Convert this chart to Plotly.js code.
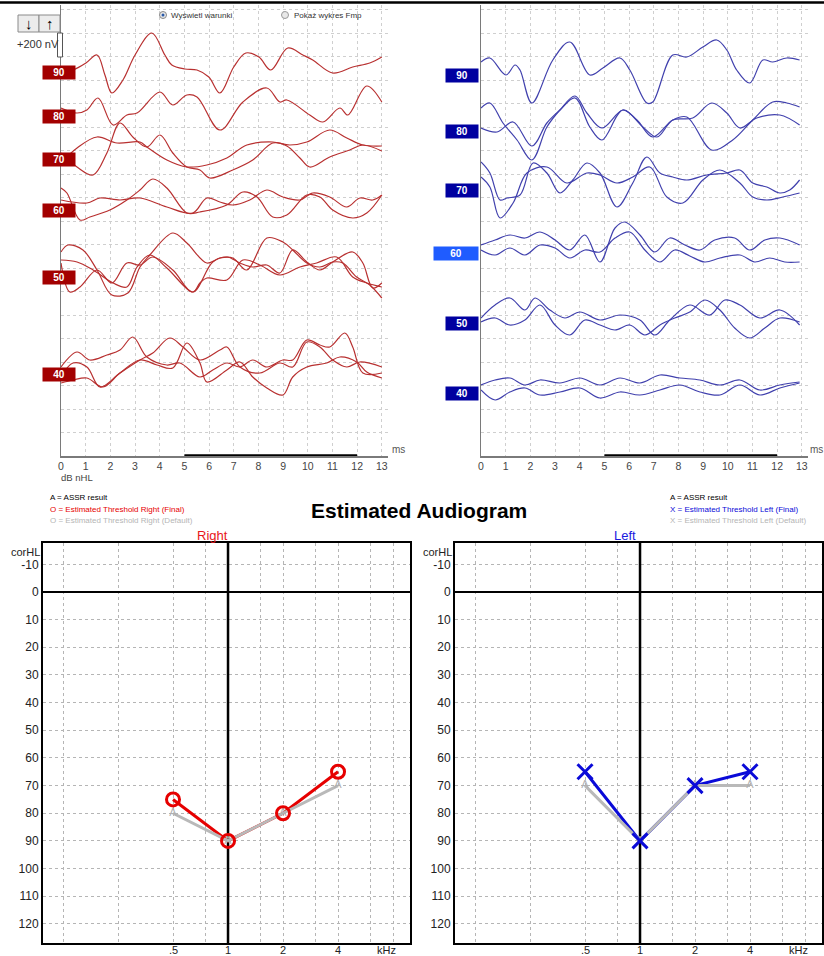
<!DOCTYPE html>
<html><head><meta charset="utf-8">
<script src="https://cdn.plot.ly/plotly-3.0.1.min.js"></script>
<style>body{margin:0;background:#fff}#chart{width:824px;height:956px}</style>
</head><body><div id="chart"></div>
<script>
// ---------- Waveform data (time in ms, amplitude relative to row baseline, display units) ----------
const levels = [90, 80, 70, 60, 50, 40];
const leftRowOffset  = [383, 339, 296, 245, 178, 81];
const rightRowOffset = [380, 324, 265, 202, 132, 62];

const L90_t=[0,0.49,1.01,1.46,1.78,2.06,2.51,3.0,3.68,4.21,4.49,5.02,5.51,5.99,6.44,7.0,7.49,8.02,8.5,9.19,9.8,10.2,11.01,11.82,12.51,13];
const L90_v=[0,3,10,18,-2,-20,-7,18,40,18,8,4,3,-4,-20,6,20,16,3,25,18,13,0,6,10,16];
const L80_t=[0,0.65,1.05,1.5,2.11,2.67,3.08,4.01,4.53,5.1,5.51,6.44,7.37,8.34,8.87,9.15,10.08,10.61,11.3,11.62,12.39,13];
const L80_v=[9,4,7,19,-8,2,4,25,12,22,20,-13,15,29,15,17,2,-5,9,2,31,15];
const L70a_t=[0,0.65,1.3,1.86,2.39,2.91,3.48,4.01,4.53,5.1,5.63,6.03,6.96,7.77,8.58,9.15,9.68,10.08,10.89,11.7,12.23,13];
const L70a_v=[7,-7,-15,7,37,23,13,25,7,-7,-10,-18,-10,0,17,14,2,-7,3,10,15,9];
const L70b_t=[0,0.65,1.46,2.27,3.2,3.48,4.29,5.1,5.91,6.72,7.53,8.58,9.27,9.96,10.89,11.58,12.23,13];
const L70b_v=[-3,12,23,17,18,13,0,-7,-5,2,15,18,15,18,30,22,15,14];
const L60a_t=[0,0.24,0.77,1.17,1.98,2.67,3.2,3.72,4.29,5.1,5.63,6.72,7.37,7.94,8.58,9.15,9.96,10.49,11.01,11.82,12.39,13];
const L60a_v=[23,18,-9,-6,1,11,21,32,23,-2,-1,6,19,14,-6,-4,16,14,1,-7,-2,16];
const L60b_t=[0,1.05,1.58,2.39,3.2,4.29,5.34,5.91,6.44,6.96,7.65,8.34,8.99,9.68,10.2,10.89,11.58,12.11,12.63,13];
const L60b_v=[11,8,13,11,13,4,-2,13,9,6,11,21,14,11,18,14,4,13,11,16];
const L50a_t=[0,0.28,0.89,1.46,2.06,2.71,3.2,3.6,4.53,5.1,5.91,6.44,6.96,7.53,8.34,8.99,9.39,9.96,10.49,11.01,11.42,11.98,12.51,13];
const L50a_v=[26,33,28,8,-17,-15,11,23,45,35,15,20,20,8,40,36,28,15,11,16,15,1,-7,-20];
const L50b_t=[0,0.65,1.3,2.11,2.67,3.08,3.6,4.29,5.34,5.63,5.91,6.72,7.37,8.06,8.87,9.68,10.36,11.17,11.82,12.39,13];
const L50b_v=[18,16,8,-5,-9,11,23,10,-14,-5,0,-2,18,13,3,11,15,21,1,-5,-9];
const L50c_t=[0,0.36,0.77,1.46,2.06,2.67,3.2,3.72,4.53,5.34,6.15,6.72,7.25,7.77,8.34,8.87,9.39,9.96,10.49,11.01,11.82,12.23,12.63,13];
const L50c_v=[15,-14,-9,8,-5,15,13,21,8,-14,16,21,15,11,13,5,28,16,8,16,26,15,-10,-5];
const L40a_t=[0,0.65,1.17,1.86,2.39,2.91,3.48,4.29,4.82,5.63,6.15,6.72,7.25,7.77,8.34,8.99,9.39,9.96,10.49,10.89,11.5,11.82,12.23,13];
const L40a_v=[8,23,15,20,25,38,18,10,12,-2,5,12,8,15,8,15,15,35,30,28,42,28,2,2];
const L40b_t=[0,0.49,1.05,1.58,2.39,3.2,3.72,4.41,4.94,5.63,6.44,6.72,7.25,8.06,8.87,9.39,9.96,10.49,11.01,11.58,12.11,13];
const L40b_v=[-2,12,8,-12,2,15,22,37,28,15,25,28,8,2,12,8,33,28,15,8,13,8];
const L40c_t=[0,0.49,1.05,1.7,2.39,3.2,3.89,4.53,5.1,5.63,5.91,6.72,7.25,7.77,8.34,8.99,9.39,9.96,10.77,11.3,11.98,12.39,13];
const L40c_v=[-8,-5,-3,-12,2,15,10,7,32,12,-7,5,13,-2,-13,-20,-2,8,12,18,13,3,-3];

const R90_t=[0,0.36,1.01,1.38,1.58,2.06,2.91,3.6,4.41,4.94,5.63,6.03,6.72,6.96,7.77,8.34,8.99,9.55,9.96,10.36,10.89,11.42,11.82,12.39,12.91];
const R90_v=[14,18,1,11,6,-27,16,34,1,8,18,6,-27,-26,21,19,29,36,26,6,-7,16,14,18,16];
const R80a_t=[0,0.36,0.89,1.46,2.06,2.67,3.2,3.81,4.29,4.9,5.75,6.32,6.96,7.77,8.34,9.35,10.2,11.01,11.82,12.39,12.91];
const R80a_v=[24,29,9,-8,-28,5,22,36,19,4,22,12,-5,12,15,-18,-8,12,30,29,25];
const R80b_t=[0,0.65,1.3,2.06,2.67,3.2,3.81,4.41,4.9,5.75,6.56,7.13,7.77,8.58,9.35,9.96,10.49,11.17,12.11,12.91];
const R80b_v=[4,0,10,-14,9,22,34,5,-8,22,5,-5,12,14,29,19,4,14,17,7];
const R70a_t=[0,0.36,0.77,1.05,1.58,2.11,2.67,3.2,3.72,4.29,4.82,5.51,6.15,6.72,7.25,7.77,8.34,9.15,9.96,10.49,11.01,11.58,12.11,12.51,12.91];
const R70a_v=[29,18,-9,-7,-4,28,18,-2,11,28,18,-16,8,34,18,14,11,16,18,21,8,4,-2,1,11];
const R70b_t=[0,0.36,0.77,1.3,1.86,2.67,3.48,4.29,4.82,5.51,6.15,6.84,7.53,8.18,8.99,9.68,10.49,11.01,11.58,12.23,12.91];
const R70b_v=[14,4,-27,-12,18,24,8,18,16,8,14,24,-6,-12,11,21,8,-6,-9,-6,-2];
const R60a_t=[0,0.57,1.17,1.78,2.39,3.0,3.6,4.21,4.82,5.43,5.83,6.44,7.04,7.65,8.26,8.87,9.47,10.28,10.89,11.5,12.11,12.91];
const R60a_v=[9,14,19,16,22,14,4,19,-8,26,32,19,2,16,9,4,14,16,4,14,16,9];
const R60b_t=[0,0.57,1.17,1.78,2.39,3.0,3.6,4.21,4.82,5.43,6.03,6.64,7.25,7.85,8.46,9.07,9.68,10.49,11.09,11.7,12.31,12.91];
const R60b_v=[4,-1,6,-1,9,6,-4,4,2,16,22,4,-8,4,-2,-8,-4,-1,-8,-4,-8,-8];
const R50a_t=[0,0.57,1.17,1.78,2.19,2.79,3.4,4.01,4.82,5.63,6.44,7.04,7.65,8.46,9.27,9.88,10.49,11.3,12.11,12.91];
const R50a_v=[6,19,26,14,26,14,6,12,4,9,4,-11,4,19,9,24,19,6,14,-1];
const R50b_t=[0,0.57,1.17,1.78,2.39,3.0,3.6,4.21,4.82,5.43,6.03,6.64,7.25,7.85,8.46,9.07,9.68,10.28,10.89,11.5,12.11,12.91];
const R50b_v=[2,6,-1,4,19,-1,-11,4,-1,-6,-1,-11,-1,6,12,24,14,-4,-14,-4,6,2];
const R40_t=[0,0.57,1.17,1.78,2.39,3.2,4.01,4.82,5.63,6.44,7.25,8.06,8.87,9.68,10.49,11.3,12.11,12.91];
const R40a_v=[9,14,16,9,14,11,16,9,16,11,19,16,14,9,14,4,9,12];
const R40b_v=[4,-6,2,6,-1,2,6,-4,2,-1,4,9,2,-1,9,-1,6,11];

const msTicks=[0,1,2,3,4,5,6,7,8,9,10,11,12,13];

// ---------- Audiogram data ----------
const freqHz=[500,1000,2000,4000];
const rightFinal=[75,90,80,65];
const rightASSR=[80,90,80,70];
const leftFinal=[65,90,70,65];
const leftASSR=[70,90,70,70];
const gridFreqs=[125,250,500,750,1000,1500,2000,3000,4000,6000,8000];
const labelFreqs=[500,1000,2000,4000];
const labelText=['.5','1','2','4'];
const dbTicks=[-10,0,10,20,30,40,50,60,70,80,90,100,110,120];

// ---------- helpers ----------
const W=824,H=956;
const px=x=>x/W, py=y=>1-y/H;
const FONT='Liberation Sans, Arial, sans-serif';
const NARROW='Liberation Sans Narrow, Arial Narrow, Liberation Sans, sans-serif';

const leftWaves=[[0,L90_t,L90_v],[1,L80_t,L80_v],[2,L70a_t,L70a_v],[2,L70b_t,L70b_v],[3,L60a_t,L60a_v],[3,L60b_t,L60b_v],
  [4,L50a_t,L50a_v],[4,L50b_t,L50b_v],[4,L50c_t,L50c_v],[5,L40a_t,L40a_v],[5,L40b_t,L40b_v],[5,L40c_t,L40c_v]];
const rightWaves=[[0,R90_t,R90_v],[1,R80a_t,R80a_v],[1,R80b_t,R80b_v],[2,R70a_t,R70a_v],[2,R70b_t,R70b_v],[3,R60a_t,R60a_v],[3,R60b_t,R60b_v],
  [4,R50a_t,R50a_v],[4,R50b_t,R50b_v],[5,R40_t,R40a_v],[5,R40_t,R40b_v]];

const traces=[];
leftWaves.forEach(([i,t,v])=>traces.push({x:t,y:v.map(a=>a+leftRowOffset[i]),xaxis:'x',yaxis:'y',mode:'lines',
  line:{color:'#b83030',width:1.2,shape:'spline',smoothing:1},hoverinfo:'skip',showlegend:false}));
rightWaves.forEach(([i,t,v])=>traces.push({x:t,y:v.map(a=>a+rightRowOffset[i]),xaxis:'x2',yaxis:'y2',mode:'lines',
  line:{color:'#4040ad',width:1.2,shape:'spline',smoothing:1},hoverinfo:'skip',showlegend:false}));

// audiograms
function audio(xa,ya,fin,assr,col,sym){
  traces.push({x:[1000,1000],y:[-30,140],xaxis:xa,yaxis:ya,mode:'lines',line:{color:'#000',width:2.5},hoverinfo:'skip',showlegend:false});
  traces.push({x:freqHz,y:fin,xaxis:xa,yaxis:ya,mode:'lines',line:{color:col,width:3},hoverinfo:'skip',showlegend:false});
  traces.push({x:freqHz,y:assr,xaxis:xa,yaxis:ya,mode:'lines',line:{color:'#b9b9b9',width:3},hoverinfo:'skip',showlegend:false});
  traces.push({x:freqHz,y:assr,xaxis:xa,yaxis:ya,mode:'text',text:freqHz.map(()=>'A'),textposition:'middle center',
    textfont:{family:FONT,size:11,color:'#b0b0b0'},hoverinfo:'skip',showlegend:false});
  traces.push({x:freqHz,y:fin,xaxis:xa,yaxis:ya,mode:'markers',marker:{symbol:sym,size:sym==='circle-open'?13:15,color:col,line:{color:col,width:3}},hoverinfo:'skip',showlegend:false});
}
audio('x3','y3',rightFinal,rightASSR,'#e60000','circle-open');
audio('x4','y4',leftFinal,leftASSR,'#0a0ad8','x-thin-open');

const waveX=(dom)=>({domain:dom,range:[0,13.25],tickvals:msTicks,showgrid:true,gridcolor:'#cfcfcf',griddash:'dot',gridwidth:1,
  showline:true,linecolor:'#7a7a7a',linewidth:1.5,zeroline:false,ticks:'',tickfont:{family:FONT,size:10.5,color:'#444'},fixedrange:true});
const waveY=()=>({domain:[py(456),py(5)],range:[0,451],tick0:0,dtick:23.5,showgrid:true,gridcolor:'#cfcfcf',griddash:'dot',gridwidth:1,
  showline:true,linecolor:'#7a7a7a',linewidth:1.5,zeroline:false,showticklabels:false,ticks:'',fixedrange:true});
const audX=(dom)=>({domain:dom,type:'log',range:[1.9874,3.996],tickvals:gridFreqs,showticklabels:false,showgrid:true,gridcolor:'#b5b5b5',
  griddash:'3px,3px',gridwidth:1,showline:true,mirror:true,linecolor:'#000',linewidth:2,ticks:'',fixedrange:true});
const audY=()=>({domain:[py(943),py(543)],range:[126.9,-17.7],tickvals:dbTicks,ticktext:dbTicks.map(String),showgrid:true,gridcolor:'#b5b5b5',
  griddash:'3px,3px',gridwidth:1,showline:true,mirror:true,linecolor:'#000',linewidth:2,zeroline:true,zerolinecolor:'#000',zerolinewidth:2.5,
  ticks:'',tickfont:{family:FONT,size:12,color:'#222'},fixedrange:true});

const ann=[];
function txt(x,y,text,o={}){ann.push(Object.assign({xref:'paper',yref:'paper',x:px(x),y:py(y),text,showarrow:false,xanchor:'center',yanchor:'middle',
  font:{family:FONT,size:11,color:'#333'}},o));}
levels.forEach((lv,i)=>{
  ann.push({xref:'paper',yref:'y',x:px(41.5),y:leftRowOffset[i],text:'<b>'+lv+'</b>',showarrow:false,bgcolor:'#a30000',width:30,height:11,borderpad:1,
    font:{family:FONT,size:10,color:'#fff'}});
  const hi=lv===60;
  ann.push({xref:'paper',yref:'y2',x:px(hi?455.5:461.5),y:rightRowOffset[i],text:'<b>'+lv+'</b>',showarrow:false,bgcolor:hi?'#1f5cff':'#0000a0',
    width:hi?42:30,height:11,borderpad:1,font:{family:FONT,size:10,color:'#fff'}});
});
['x3','x4'].forEach(xa=>labelFreqs.forEach((f,k)=>ann.push({xref:xa,yref:'paper',x:Math.log10(f),y:py(950),text:labelText[k],showarrow:false,
  xanchor:'center',yanchor:'middle',font:{family:FONT,size:11,color:'#222'}})));
txt(28.5,23.5,'<b>↓</b>',{font:{family:FONT,size:15,color:'#000'}});
txt(49.5,23.5,'<b>↑</b>',{font:{family:FONT,size:15,color:'#000'}});
txt(15,44,'+200 nV',{xanchor:'left',font:{family:FONT,size:11,color:'#333'}});
txt(169,15,'Wyświetl warunki',{xanchor:'left',font:{family:NARROW,size:8,color:'#333'}});
txt(292,15,'Pokaż wykres Fmp',{xanchor:'left',font:{family:NARROW,size:8,color:'#333'}});
txt(390,449,'ms',{xanchor:'left',font:{family:FONT,size:10,color:'#555'}});
txt(808,449,'ms',{xanchor:'left',font:{family:FONT,size:10,color:'#555'}});
txt(59,477,'dB nHL',{xanchor:'left',font:{family:FONT,size:9.5,color:'#444'}});
txt(419,511,'<b>Estimated Audiogram</b>',{font:{family:FONT,size:21,color:'#000'}});
txt(48,497,'A = ASSR result',{xanchor:'left',font:{family:NARROW,size:8,color:'#000'}});
txt(48,509,'O = Estimated Threshold Right (Final)',{xanchor:'left',font:{family:NARROW,size:8,color:'#e60000'}});
txt(48,520,'O = Estimated Threshold Right (Default)',{xanchor:'left',font:{family:NARROW,size:8,color:'#b5b5b5'}});
txt(668,497,'A = ASSR result',{xanchor:'left',font:{family:NARROW,size:8,color:'#000'}});
txt(668,509,'X = Estimated Threshold Left (Final)',{xanchor:'left',font:{family:NARROW,size:8,color:'#0a0ad8'}});
txt(668,520,'X = Estimated Threshold Left (Default)',{xanchor:'left',font:{family:NARROW,size:8,color:'#b5b5b5'}});
txt(212.5,535,'Right',{font:{family:FONT,size:13,color:'#e8161b'}});
txt(624.5,535,'Left',{font:{family:FONT,size:13,color:'#1a1ae0'}});
txt(42,552,'corHL',{xanchor:'right',font:{family:FONT,size:11,color:'#222'}});
txt(454,552,'corHL',{xanchor:'right',font:{family:FONT,size:11,color:'#222'}});
txt(386,950,'kHz',{font:{family:FONT,size:11,color:'#222'}});
txt(798,950,'kHz',{font:{family:FONT,size:11,color:'#222'}});

const shapes=[
  {type:'line',xref:'paper',yref:'paper',x0:0,x1:1,y0:py(2.5),y1:py(2.5),line:{color:'#000',width:2.5}},
  {type:'rect',xref:'paper',yref:'paper',x0:px(18),x1:px(39),y0:py(32),y1:py(15),fillcolor:'#ececec',line:{color:'#8a8a8a',width:1}},
  {type:'rect',xref:'paper',yref:'paper',x0:px(39),x1:px(60),y0:py(32),y1:py(15),fillcolor:'#ececec',line:{color:'#8a8a8a',width:1}},
  {type:'rect',xref:'paper',yref:'paper',x0:px(57.5),x1:px(62.5),y0:py(57),y1:py(33),fillcolor:'#fff',line:{color:'#555',width:1}},
  {type:'circle',xref:'paper',yref:'paper',x0:px(159.5),x1:px(166.5),y0:py(18.5),y1:py(11.5),fillcolor:'#e8e8e8',line:{color:'#888',width:1}},
  {type:'circle',xref:'paper',yref:'paper',x0:px(161.5),x1:px(164.5),y0:py(16.5),y1:py(13.5),fillcolor:'#2a5aa8',line:{width:0}},
  {type:'circle',xref:'paper',yref:'paper',x0:px(281.5),x1:px(288.5),y0:py(18.5),y1:py(11.5),fillcolor:'#e8e8e8',line:{color:'#999',width:1}},
  {type:'line',xref:'x',yref:'y',x0:5,x1:12,y0:0,y1:0,line:{color:'#000',width:3.5}},
  {type:'line',xref:'x2',yref:'y2',x0:5,x1:12,y0:0,y1:0,line:{color:'#000',width:3.5}},
];

const layout={width:W,height:H,margin:{l:0,r:0,t:0,b:0},paper_bgcolor:'#fff',plot_bgcolor:'#fff',showlegend:false,
  font:{family:FONT},
  xaxis:waveX([px(61),px(388)]),yaxis:waveY(),
  xaxis2:Object.assign(waveX([px(481),px(808)]),{anchor:'y2'}),yaxis2:Object.assign(waveY(),{anchor:'x2'}),
  xaxis3:Object.assign(audX([px(43),px(410)]),{anchor:'y3'}),yaxis3:Object.assign(audY(),{anchor:'x3'}),
  xaxis4:Object.assign(audX([px(455),px(822)]),{anchor:'y4'}),yaxis4:Object.assign(audY(),{anchor:'x4'}),
  annotations:ann,shapes:shapes};
layout.xaxis.anchor='y';layout.yaxis.anchor='x';
Plotly.newPlot('chart',traces,layout,{staticPlot:true,displayModeBar:false});
</script></body></html>
